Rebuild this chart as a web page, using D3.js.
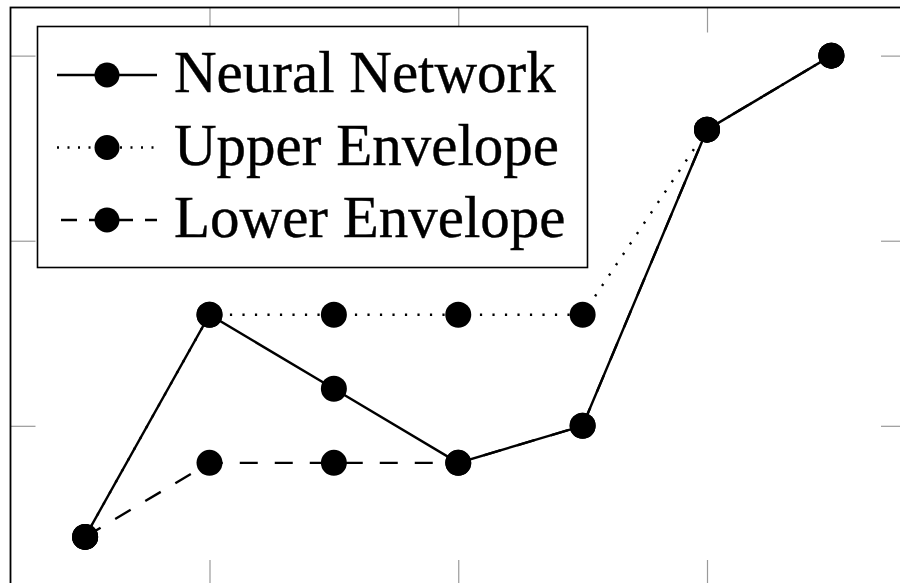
<!DOCTYPE html>
<html><head><meta charset="utf-8">
<script src="https://cdn.jsdelivr.net/npm/d3@7/dist/d3.min.js"></script>
<style>html,body{margin:0;padding:0;background:#fff;overflow:hidden}svg{display:block}</style>
</head><body>
<script>
const xValues = [1, 2, 3, 4, 5, 6, 7];
const neuralNetwork = [-3, 3, 1, -1, 0, 8, 10];
const upperEnvelope = [-3, 3, 3, 3, 3, 8, 10];
const lowerEnvelope = [-3, -1, -1, -1, 0, 8, 10];
const xTicks = [2, 4, 6];
const yTicks = [0, 5, 10];
const seriesNames = ["Neural Network", "Upper Envelope", "Lower Envelope"];

const W = 900, H = 583;
const plot = {left: 10.5, right: 906, top: 7.5, bottom: 585};
const svg = d3.select("body").append("svg").attr("width", W).attr("height", H);

const x = d3.scaleLinear().domain([0.4, 7.6]).range([plot.left, plot.right]);
const y = d3.scaleLinear().domain([-4.3, 11.3]).range([plot.bottom, plot.top]);

const tickLen = 25;
const tickStyle = g => {
  g.select(".domain").remove();
  g.selectAll(".tick line").attr("stroke", "#9a9a9a").attr("stroke-width", 1.2);
  g.selectAll(".tick text").remove();
};
svg.append("g").attr("transform", `translate(0,${plot.bottom})`)
  .call(d3.axisBottom(x).tickValues(xTicks).tickSize(-tickLen).tickFormat("")).call(tickStyle);
svg.append("g").attr("transform", `translate(0,${plot.top})`)
  .call(d3.axisTop(x).tickValues(xTicks).tickSize(-tickLen).tickFormat("")).call(tickStyle);
svg.append("g").attr("transform", `translate(${plot.left},0)`)
  .call(d3.axisLeft(y).tickValues(yTicks).tickSize(-tickLen).tickFormat("")).call(tickStyle);
svg.append("g").attr("transform", `translate(${plot.right},0)`)
  .call(d3.axisRight(y).tickValues(yTicks).tickSize(-tickLen).tickFormat("")).call(tickStyle);

svg.append("rect").attr("x", plot.left).attr("y", plot.top)
  .attr("width", plot.right - plot.left).attr("height", plot.bottom - plot.top)
  .attr("fill", "none").attr("stroke", "#000").attr("stroke-width", 1.8);

const styles = [
  {dash: null},
  {dash: "2.2 10.3"},
  {dash: "18 17"}
];
const series = [neuralNetwork, upperEnvelope, lowerEnvelope];
const line = d3.line().x((d, i) => x(xValues[i])).y(d => y(d));

series.forEach((vals, k) => {
  svg.append("path").datum(vals).attr("d", line)
    .attr("fill", "none").attr("stroke", "#000").attr("stroke-width", 2.4)
    .attr("stroke-dasharray", styles[k].dash);
  svg.append("g").selectAll("circle").data(vals).join("circle")
    .attr("cx", (d, i) => x(xValues[i])).attr("cy", d => y(d)).attr("r", 13).attr("fill", "#000");
});

// legend
const lg = svg.append("g");
lg.append("rect").attr("x", 37.5).attr("y", 26.5).attr("width", 550).attr("height", 241)
  .attr("fill", "#fff").attr("stroke", "#000").attr("stroke-width", 1.6);
seriesNames.forEach((name, k) => {
  const cy = 75 + k * 72.5;
  lg.append("line").attr("x1", 57).attr("x2", 157).attr("y1", cy).attr("y2", cy)
    .attr("stroke", "#000").attr("stroke-width", 2.4)
    .attr("stroke-dasharray", k === 1 ? "2 8.5" : (k === 2 ? "16 12" : null))
    .attr("stroke-dashoffset", k === 2 ? -4 : 0);
  lg.append("circle").attr("cx", 107).attr("cy", cy).attr("r", 12.5).attr("fill", "#000");
  lg.append("text").attr("x", 174).attr("y", cy + 17)
    .attr("font-family", "'Liberation Serif', 'DejaVu Serif', serif").attr("font-size", 59)
    .attr("fill", "#000").attr("stroke", "#000").attr("stroke-width", 0.4).text(name);
});
</script>
</body></html>
